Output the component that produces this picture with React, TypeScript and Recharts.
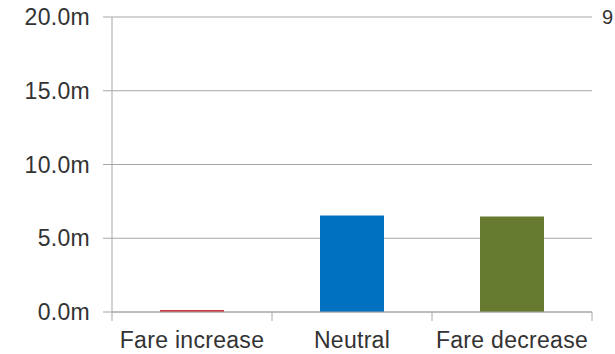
import React from "react";
import { BarChart, Bar, XAxis, YAxis, CartesianGrid, Cell, ReferenceLine } from "recharts";

const categories = ["Fare increase", "Neutral", "Fare decrease"];
const values = [0.13, 6.55, 6.48];
const barColors = ["#d0393b", "#0070c0", "#667a30"];
const yTicks = [0, 5, 10, 15, 20];
const xTickPositions = [0, 0.5, 1, 1.5, 2, 2.5, 3];
const rightEdgeLabel = "9";

const data = categories.map((name, i) => ({ name, pos: i + 0.5, value: values[i] }));

const GRID = "#a6a6a6";
const TEXT = "#333333";
const FONT = "'Liberation Sans', Arial, sans-serif";

const XTick = (props: any) => {
  const { x, y, payload } = props;
  const v = payload.value as number;
  if (Number.isInteger(v)) {
    return <line x1={x} x2={x} y1={y} y2={y + 9} stroke={GRID} strokeWidth={1} />;
  }
  return (
    <text x={x} y={y + 36} textAnchor="middle" fill={TEXT} fontSize={23} letterSpacing={0.3} fontFamily={FONT}>
      {categories[Math.floor(v)]}
    </text>
  );
};

const RightLabel = (props: any) => {
  const vb = props.viewBox || {};
  const x = (vb.x ?? 0) + (vb.width ?? 0) + 10;
  const y = vb.y ?? 0;
  return (
    <text x={x} y={y} dy="0.355em" textAnchor="start" fill={TEXT} fontSize={20} fontFamily={FONT}>
      {rightEdgeLabel}
    </text>
  );
};

export default function App() {
  return (
    <div style={{ position: "absolute", left: 0, top: 0, fontFamily: FONT }}>
      <BarChart width={615} height={354} data={data} margin={{ top: 17, right: 23, left: 0, bottom: 0 }}>
        <CartesianGrid horizontal vertical={false} stroke={GRID} />
        <XAxis
          dataKey="pos"
          type="number"
          domain={[0, 3]}
          ticks={xTickPositions}
          interval={0}
          tick={<XTick />}
          tickLine={false}
          tickSize={0}
          tickMargin={0}
          axisLine={{ stroke: GRID }}
          height={42}
        />
        <YAxis
          domain={[0, 20]}
          ticks={yTicks}
          width={112}
          tickSize={9}
          tickMargin={13}
          tickLine={{ stroke: GRID }}
          axisLine={{ stroke: GRID }}
          tickFormatter={(v: number) => `${v.toFixed(1)}m`}
          tick={{ fill: TEXT, fontSize: 23, letterSpacing: 0.3, fontFamily: FONT }}
        />
        <ReferenceLine y={20} strokeOpacity={0} label={<RightLabel />} />
        <Bar dataKey="value" barSize={64} isAnimationActive={false}>
          {data.map((d, i) => (
            <Cell key={d.name} fill={barColors[i]} />
          ))}
        </Bar>
      </BarChart>
    </div>
  );
}
